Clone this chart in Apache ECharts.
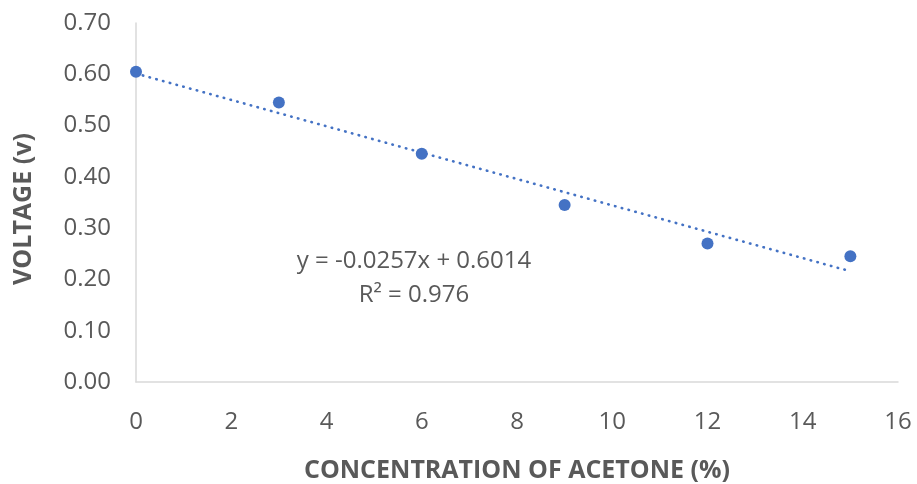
<!DOCTYPE html>
<html>
<head>
<meta charset="utf-8">
<script src="https://cdn.jsdelivr.net/npm/echarts@6/dist/echarts.min.js"></script>
<style>
html,body{margin:0;padding:0;background:#fff;}
#chart{width:917px;height:484px;}
</style>
</head>
<body>
<div id="chart"></div>
<script>
const concentration = [0, 3, 6, 9, 12, 15];
const voltage = [0.605, 0.545, 0.445, 0.345, 0.27, 0.245];
const trendSlope = -0.0257;
const trendIntercept = 0.6014;
const trendRange = [0, 15];
const equationLines = ['y = -0.0257x + 0.6014', 'R² = 0.976'];
const xTitle = 'CONCENTRATION OF ACETONE (%)';
const yTitle = 'VOLTAGE (v)';

const points = concentration.map((x, i) => [x, voltage[i]]);
const trend = trendRange.map(x => [x, trendIntercept + trendSlope * x]);

const chart = echarts.init(document.getElementById('chart'));
const FONT = '"Open Sans", sans-serif';
chart.setOption({
  animation: false,
  backgroundColor: '#ffffff',
  grid: { left: 136, right: 19, top: 23, bottom: 102, containLabel: false, outerBoundsMode: 'none' },
  xAxis: {
    type: 'value', min: 0, max: 16, interval: 2,
    axisLine: { show: true, lineStyle: { color: '#d9d9d9', width: 1.5 } },
    axisTick: { show: false },
    splitLine: { show: false },
    axisLabel: { color: '#595959', fontFamily: FONT, fontSize: 24, margin: 28 },
    name: xTitle, nameLocation: 'middle', nameGap: 76,
    nameTextStyle: { color: '#595959', fontFamily: FONT, fontSize: 25, fontWeight: 'bold' }
  },
  yAxis: {
    type: 'value', min: 0, max: 0.7, interval: 0.1,
    axisLine: { show: true, lineStyle: { color: '#d9d9d9', width: 1.5 } },
    axisTick: { show: false },
    splitLine: { show: false },
    axisLabel: { color: '#595959', fontFamily: FONT, fontSize: 24, margin: 25,
      formatter: v => v.toFixed(2) },
    name: yTitle, nameLocation: 'middle', nameGap: 100, nameRotate: 90,
    nameTextStyle: { color: '#595959', fontFamily: FONT, fontSize: 25, fontWeight: 'bold',
      padding: [0, 13, 0, 0] }
  },
  series: [
    {
      type: 'line', data: trend, symbol: 'none', silent: true,
      lineStyle: { color: '#4472C4', width: 2.6, type: [0.5, 6.5], cap: 'round', opacity: 1 },
      z: 2
    },
    {
      type: 'scatter', data: points, symbol: 'circle', symbolSize: 12,
      itemStyle: { color: '#4472C4', opacity: 1 }, z: 3
    }
  ],
  graphic: [
    { type: 'text', x: 414, y: 261, style: { text: equationLines[0], fill: '#595959',
      font: '24px "Open Sans", sans-serif', align: 'center', verticalAlign: 'middle' } },
    { type: 'text', x: 414, y: 295, style: { text: equationLines[1], fill: '#595959',
      font: '24px "Open Sans", sans-serif', align: 'center', verticalAlign: 'middle' } }
  ]
});
</script>
</body>
</html>
